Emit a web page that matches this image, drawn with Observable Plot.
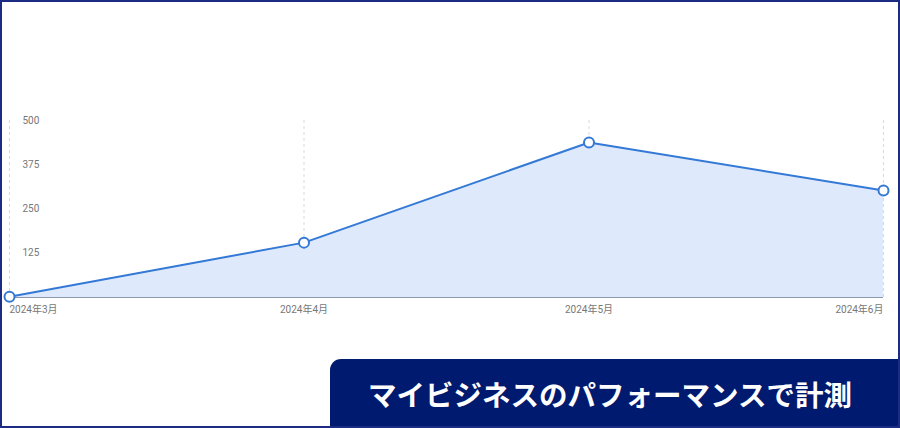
<!DOCTYPE html>
<html>
<head>
<meta charset="utf-8">
<script src="https://cdn.jsdelivr.net/npm/d3@7"></script>
<script src="https://cdn.jsdelivr.net/npm/@observablehq/plot@0.6"></script>
<style>
  html, body { margin: 0; padding: 0; background: #fff; }
  #wrap { position: relative; width: 900px; height: 428px; overflow: hidden; background: #fff; }
  #chart { position: absolute; left: 0; top: 0; }
  #banner {
    position: absolute; left: 330px; top: 359px; width: 570px; height: 69px;
    box-sizing: border-box; padding-right: 10px;
    background: #001a70; border-top-left-radius: 11px;
    color: #fff; font-family: "Noto Sans CJK JP", sans-serif; font-weight: 700;
    font-size: 28.5px; line-height: 69px; text-align: center;
  }
  #frame {
    position: absolute; left: 0; top: 0; width: 900px; height: 428px;
    box-sizing: border-box; border: 2px solid #1b2c82; pointer-events: none;
  }
</style>
</head>
<body>
<div id="wrap">
  <div id="chart"></div>
  <div id="banner">マイビジネスのパフォーマンスで計測</div>
  <div id="frame"></div>
</div>
<script>
const months = ["2024-03-01", "2024-04-01", "2024-05-01", "2024-06-01"];
const values = [2, 155, 438, 302];
const yTicks = [125, 250, 375, 500];

const data = months.map((m, i) => ({date: new Date(m + "T00:00:00Z"), value: values[i]}));
const dates = data.map(d => d.date);
const fmt = d => `${d.getUTCFullYear()}年${d.getUTCMonth() + 1}月`;
const blue = "#3479d6";
const axisStyle = {tickSize: 0, tickPadding: 8, tickFormat: fmt, fill: "#777", fontSize: 10, label: null};

const plot = Plot.plot({
  width: 900,
  height: 428,
  marginLeft: 9,
  marginRight: 17,
  marginTop: 120,
  marginBottom: 131,
  style: {fontFamily: "Roboto, 'Noto Sans CJK JP', sans-serif", fontSize: "10px", background: "transparent"},
  x: {type: "utc", domain: [dates[0], dates[dates.length - 1]]},
  y: {domain: [0, 500]},
  marks: [
    Plot.ruleX(dates, {stroke: "#d5d9e2", strokeDasharray: "3,3", y1: 0, y2: 500}),
    Plot.areaY(data, {x: "date", y: "value", fill: "#deeafc"}),
    Plot.ruleY([0], {stroke: "#8c97ab", strokeWidth: 1}),
    Plot.lineY(data, {x: "date", y: "value", stroke: blue, strokeWidth: 2}),
    Plot.dot(data, {x: "date", y: "value", r: 5, fill: "#fff", stroke: blue, strokeWidth: 2}),
    Plot.axisY({ticks: yTicks, tickSize: 0, tickPadding: -13, textAnchor: "start", fill: "#777", fontSize: 10, label: null}),
    Plot.axisX({ticks: [dates[0]], textAnchor: "start", ...axisStyle}),
    Plot.axisX({ticks: dates.slice(1, -1), ...axisStyle}),
    Plot.axisX({ticks: [dates[dates.length - 1]], textAnchor: "end", ...axisStyle})
  ]
});
document.getElementById("chart").appendChild(plot);
</script>
</body>
</html>
